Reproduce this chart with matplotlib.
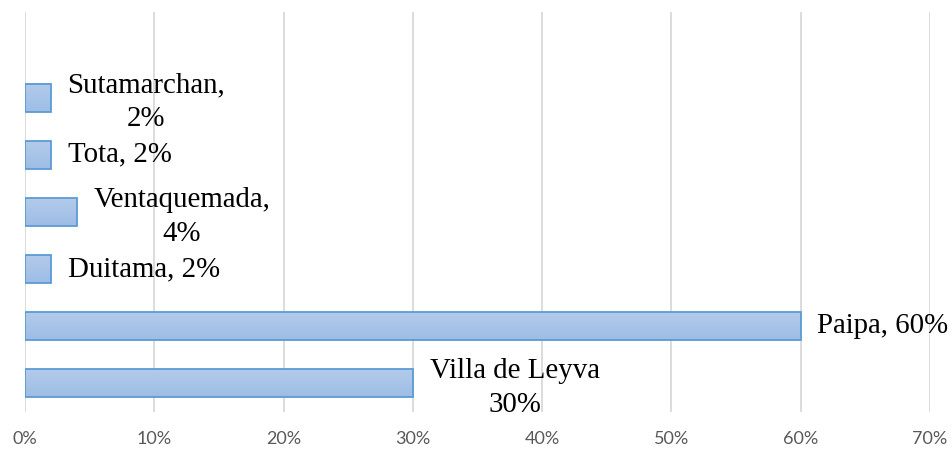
import matplotlib
matplotlib.use("Agg")
import matplotlib.pyplot as plt
import numpy as np
from matplotlib.ticker import FuncFormatter
from matplotlib.colors import LinearSegmentedColormap

categories = ["Villa de Leyva", "Paipa", "Duitama", "Ventaquemada", "Tota", "Sutamarchan"]
values = [30, 60, 2, 4, 2, 2]
label_texts = ["Villa de Leyva\n30%", "Paipa, 60%", "Duitama, 2%", "Ventaquemada,\n4%", "Tota, 2%", "Sutamarchan,\n2%"]
xticks = [0, 10, 20, 30, 40, 50, 60, 70]

fig = plt.figure(figsize=(9.52, 4.53), dpi=100)
ax = fig.add_axes([25/952, 1-412/453, (930-25)/952, 400/453])

pos = np.arange(len(categories))
bars = ax.barh(pos, values, height=0.49, color="none", edgecolor="#5b9bd5", linewidth=1.3, zorder=3)

grad = np.linspace(0, 1, 64).reshape(-1, 1)
cmap = LinearSegmentedColormap.from_list("g", ["#9dbde6", "#b3cbea"])
for b in bars:
    x0, y0, w, h = b.get_x(), b.get_y(), b.get_width(), b.get_height()
    ax.imshow(grad, extent=[x0, x0 + w, y0, y0 + h], origin="lower", cmap=cmap,
              aspect="auto", zorder=2, interpolation="bilinear")

for p, v, t in zip(pos, values, label_texts):
    dy = -3.5 if "\n" in t else 0
    ax.annotate(t, xy=(v, p), xytext=(12, dy), textcoords="offset points",
                ha="left", va="center", multialignment="center",
                fontsize=20.8, family="Liberation Serif", color="#000000",
                linespacing=1.38, zorder=4)

ax.set_xlim(0, 70)
ax.set_ylim(-0.5, 6.5)
ax.set_xticks(xticks)
ax.xaxis.set_major_formatter(FuncFormatter(lambda x, _: f"{int(x)}%"))
ax.set_yticks([])
ax.grid(axis="x", color="#d9d9d9", linewidth=1.3, zorder=0)
ax.set_axisbelow(True)
for s in ax.spines.values():
    s.set_visible(False)
ax.tick_params(axis="x", length=0, pad=14, labelsize=13, labelcolor="#595959")
for lbl in ax.get_xticklabels():
    lbl.set_family("Lato")

fig.savefig("out.png", dpi=100)
